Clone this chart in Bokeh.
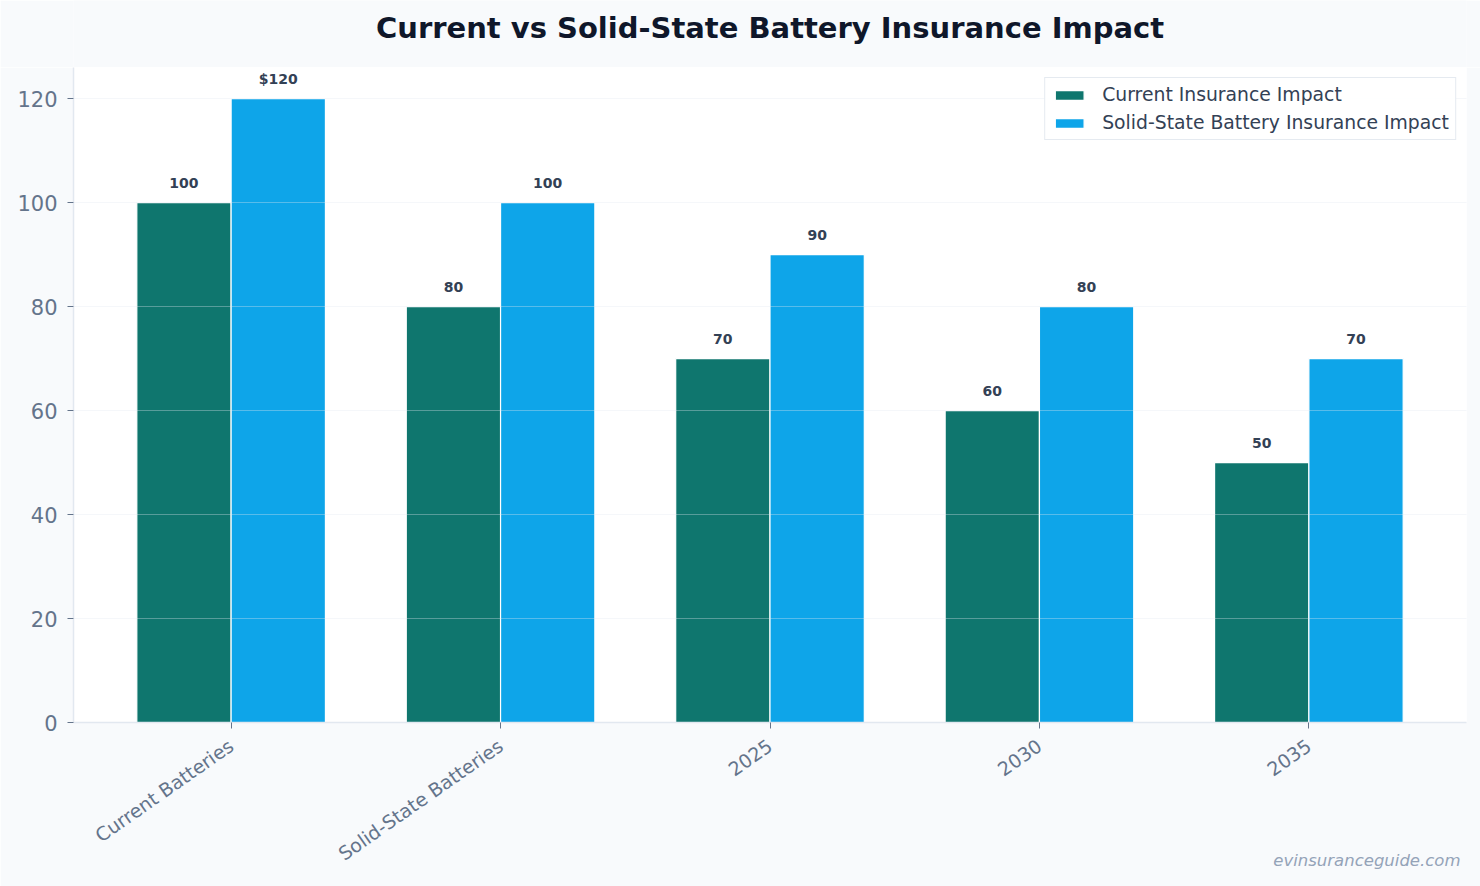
from bokeh.plotting import figure
from bokeh.layouts import column
from bokeh.models import ColumnDataSource, Range1d, FixedTicker, Legend, LegendItem, Title
from bokeh.transform import dodge
from bokeh.core.properties import value
from bokeh.embed import file_html
from bokeh.resources import INLINE

categories = ["Current Batteries", "Solid-State Batteries", "2025", "2030", "2035"]
current_impact = [100, 80, 70, 60, 50]
solid_state_impact = [120, 100, 90, 80, 70]
current_labels = ["100", "80", "70", "60", "50"]
solid_state_labels = ["$120", "100", "90", "80", "70"]
y_ticks = [0, 20, 40, 60, 80, 100, 120]
title_text = "Current vs Solid-State Battery Insurance Impact"
watermark_text = "evinsuranceguide.com"

TEAL = "#0f766e"
BLUE = "#0ea5e9"
BG = "#f8fafc"
FONT = "DejaVu Sans"

W, H = 1480, 886
ML, MR, MT, MB = 73, 14, 67, 164

n = len(categories)
bw = 0.35
pad = (n - 1 + 2 * bw) * 0.05
x0, x1 = -bw - pad, n - 1 + bw + pad
ymax = max(solid_state_impact + current_impact) * 1.05

# ---- title strip (its own small figure so the text stays in SVG) ----
# the column aligns this frame with the main chart's frame, so use the same pixel span
t = figure(width=W, height=MT, output_backend="svg", toolbar_location=None,
           x_range=Range1d(ML, W - MR), y_range=Range1d(0, MT),
           x_axis_type=None, y_axis_type=None,
           min_border_left=0, min_border_right=0, min_border_top=0, min_border_bottom=0)
t.background_fill_color = BG
t.border_fill_color = BG
t.outline_line_color = None
t.xgrid.grid_line_color = None
t.ygrid.grid_line_color = None
t.text(x=[(ML + W - MR) / 2], y=[MT - 27], text=[title_text],
       text_font=value(FONT), text_font_style="bold", text_font_size="29px",
       text_color="#0f172a", text_align="center", text_baseline="middle")

# ---- main chart ----
src = ColumnDataSource(dict(
    idx=list(range(n)),
    cur=current_impact,
    sol=solid_state_impact,
    cur_lab=current_labels,
    sol_lab=solid_state_labels,
))

p = figure(width=W, height=H - MT, output_backend="svg", toolbar_location=None,
           x_range=Range1d(x0, x1), y_range=Range1d(0, ymax),
           min_border_left=ML, min_border_right=MR, min_border_top=0, min_border_bottom=MB)
p.background_fill_color = "white"
p.border_fill_color = BG
p.outline_line_color = None

r1 = p.vbar(x=dodge("idx", -bw / 2), top="cur", width=bw, source=src,
            fill_color=TEAL, line_color="white", line_width=1.2)
r2 = p.vbar(x=dodge("idx", bw / 2), top="sol", width=bw, source=src,
            fill_color=BLUE, line_color="white", line_width=1.2)

for col, lab, off in [("cur", "cur_lab", -bw / 2), ("sol", "sol_lab", bw / 2)]:
    p.text(x=dodge("idx", off), y=col, text=lab, source=src,
           text_font=value(FONT), text_font_style="bold", text_font_size="14px",
           text_color="#334155", text_align="center", text_baseline="alphabetic",
           y_offset=-20)

# axes
p.xaxis.ticker = FixedTicker(ticks=list(range(n)))
p.xaxis.major_label_overrides = {i: c for i, c in enumerate(categories)}
p.xaxis.major_label_orientation = 0.611
p.xaxis.major_label_text_font = FONT
p.xaxis.major_label_text_font_size = "19px"
p.xaxis.major_label_text_color = "#64748b"
p.xaxis.major_label_standoff = 15
p.xaxis.minor_tick_line_color = None
p.xaxis.major_tick_out = 6
p.xaxis.major_tick_in = 0
p.xaxis.major_tick_line_color = "#64748b"
p.xaxis.axis_line_color = "#e2e8f0"
p.xaxis.axis_line_width = 1.5

p.yaxis.ticker = FixedTicker(ticks=y_ticks)
p.yaxis.major_label_text_font = FONT
p.yaxis.major_label_text_font_size = "21px"
p.yaxis.major_label_text_color = "#64748b"
p.yaxis.major_label_standoff = 10
p.yaxis.minor_tick_line_color = None
p.yaxis.major_tick_out = 6
p.yaxis.major_tick_in = 0
p.yaxis.major_tick_line_color = "#64748b"
p.yaxis.axis_line_color = "#e2e8f0"
p.yaxis.axis_line_width = 1.5

p.xgrid.grid_line_color = None
p.ygrid.ticker = FixedTicker(ticks=y_ticks)
p.ygrid.grid_line_color = "#e2e8f0"
p.ygrid.grid_line_alpha = 0.35
p.ygrid.grid_line_width = 1.2
p.ygrid.level = "overlay"

legend = Legend(items=[
    LegendItem(label="Current Insurance Impact", renderers=[r1]),
    LegendItem(label="Solid-State Battery Insurance Impact", renderers=[r2]),
], location="top_right")
legend.label_text_font = FONT
legend.label_text_font_size = "18.8px"
legend.label_text_color = "#334155"
legend.glyph_width = 36
legend.glyph_height = 12
legend.label_standoff = 15
legend.padding = 6
legend.spacing = 7
legend.margin = 10
legend.border_line_color = "#cbd5e1"
legend.border_line_width = 1.2
legend.background_fill_color = "white"
legend.background_fill_alpha = 0.9
p.add_layout(legend)

wm = Title(text=watermark_text, align="right", vertical_align="top", standoff=-51, offset=6,
           text_font=FONT, text_font_style="italic", text_font_size="16.5px",
           text_color="#94a3b8")
p.add_layout(wm, "below")

layout = column(t, p, spacing=0)
open("out.html", "w").write(file_html(layout, INLINE))
